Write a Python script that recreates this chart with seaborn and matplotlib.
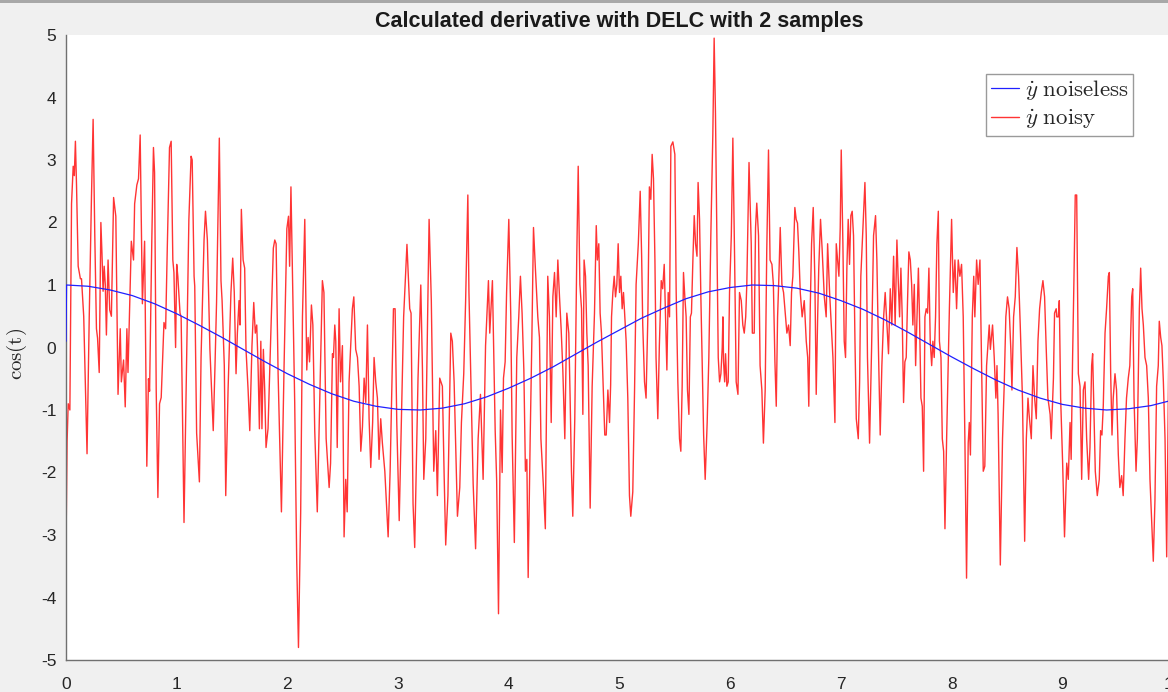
import matplotlib
matplotlib.use("Agg")
import matplotlib.pyplot as plt
from matplotlib.patches import Rectangle
import pandas as pd
import seaborn as sns

# ---------------- data ----------------
title = "Calculated derivative with DELC with 2 samples"
ylabel = r"$\mathrm{cos(t)}$"
label_clean = r"$\dot{y}\ \mathrm{noiseless}$"
label_noisy = r"$\dot{y}\ \mathrm{noisy}$"
x_ticks = [0, 1, 2, 3, 4, 5, 6, 7, 8, 9, 10]
y_ticks = [-5, -4, -3, -2, -1, 0, 1, 2, 3, 4, 5]

# noiseless derivative (blue)
t_clean = [0.0, 0.005, 0.2, 0.4, 0.6, 0.8, 1.0, 1.2, 1.4, 1.6, 1.8, 2.0, 2.2, 2.4, 2.6,
           2.8, 3.0, 3.2, 3.4, 3.6, 3.8, 4.0, 4.2, 4.4, 4.6, 4.8, 5.0, 5.2, 5.4,
           5.6, 5.8, 6.0, 6.2, 6.4, 6.6, 6.8, 7.0, 7.2, 7.4, 7.6, 7.8, 8.0, 8.2,
           8.4, 8.6, 8.8, 9.0, 9.2, 9.4, 9.6, 9.8, 10.0]
v_clean = [0.1, 1.0, 0.98, 0.92, 0.83, 0.70, 0.54, 0.36, 0.17, -0.03, -0.23, -0.42,
           -0.59, -0.74, -0.86, -0.94, -0.99, -1.0, -0.97, -0.90, -0.79, -0.65,
           -0.49, -0.31, -0.11, 0.09, 0.28, 0.47, 0.63, 0.78, 0.89, 0.96, 1.0,
           0.99, 0.95, 0.87, 0.75, 0.61, 0.44, 0.25, 0.05, -0.15, -0.34, -0.52,
           -0.68, -0.81, -0.91, -0.97, -1.0, -0.98, -0.93, -0.84]

# noisy derivative (red), (t, value) pairs per unit of t
seg0 = [(0.0, -3.2), (0.01, -1.5), (0.02, -0.9), (0.035, -1.0), (0.05, 2.3), (0.065, 2.9),
        (0.075, 2.75), (0.085, 3.3), (0.095, 2.6), (0.11, 1.3), (0.13, 1.1), (0.14, 1.1),
        (0.16, 0.5), (0.19, -1.7), (0.21, 0.5), (0.23, 2.4), (0.245, 3.65), (0.26, 1.8),
        (0.275, 0.3), (0.285, 0.15), (0.30, -0.4), (0.315, 2.0), (0.325, 1.5), (0.335, 0.9),
        (0.345, 1.3), (0.355, 1.0), (0.365, 0.2), (0.38, 1.4), (0.395, 0.6), (0.41, 0.5),
        (0.43, 2.4), (0.45, 2.1), (0.47, -0.75), (0.49, 0.3), (0.50, -0.55), (0.52, -0.2),
        (0.535, -0.95), (0.55, 0.3), (0.56, -0.4), (0.59, 1.7), (0.61, 1.4), (0.62, 2.3),
        (0.64, 2.6), (0.655, 2.7), (0.67, 3.4), (0.69, 0.7), (0.71, 1.7), (0.73, -1.9),
        (0.745, -0.5), (0.755, -0.7), (0.775, 1.7), (0.79, 3.2), (0.80, 2.8), (0.815, -0.7),
        (0.83, -2.4), (0.845, -0.9), (0.86, -0.8), (0.885, 0.4), (0.90, 0.3), (0.915, 1.6),
        (0.935, 3.2), (0.95, 3.3), (0.965, 1.4), (0.975, 1.2), (0.99, 0.0)]
seg1 = [(1.0, 1.33), (1.01, 1.14), (1.03, 0.55), (1.04, 0.49), (1.066, -2.8), (1.09, -0.16),
        (1.11, 2.05), (1.13, 3.06), (1.14, 3.0), (1.157, 1.14), (1.163, 0.98), (1.18, -1.37),
        (1.205, -2.15), (1.22, -0.16), (1.247, 1.72), (1.26, 2.18), (1.277, 1.72), (1.30, -0.03),
        (1.33, -1.33), (1.346, -0.29), (1.36, 0.72), (1.385, 3.35), (1.40, 1.07), (1.41, 0.75),
        (1.43, -0.29), (1.443, -2.37), (1.464, -0.68), (1.49, 0.88), (1.506, 1.43), (1.52, 0.88),
        (1.527, 0.29), (1.536, -0.42), (1.548, 0.23), (1.563, 0.75), (1.572, 0.36), (1.584, 2.21),
        (1.60, 1.4), (1.614, 1.27), (1.626, -0.03), (1.645, -0.68), (1.66, -1.33), (1.68, 0.03),
        (1.696, 0.72), (1.71, 0.23), (1.723, 0.36), (1.735, -0.29), (1.747, -1.3), (1.76, 0.1),
        (1.77, -1.3), (1.783, -0.03), (1.795, -0.68), (1.807, -1.6), (1.825, -1.3), (1.85, 0.23),
        (1.873, 1.59), (1.886, 1.72), (1.898, 1.66), (1.916, -0.42), (1.946, -2.63), (1.97, -0.29)]
seg2 = [(1.995, 1.9), (2.01, 2.1), (2.02, 1.3), (2.032, 2.57), (2.066, -0.88), (2.084, -3.4),
        (2.1, -4.8), (2.12, -2.63), (2.136, 0.49), (2.157, 2.05), (2.175, -0.36), (2.187, 0.16),
        (2.2, -0.23), (2.217, 0.68), (2.23, 0.36), (2.247, -1.33), (2.27, -2.63), (2.295, -0.62),
        (2.316, 1.07), (2.33, 0.88), (2.35, -1.46), (2.377, -2.24), (2.39, -1.85), (2.407, -0.1),
        (2.416, -0.16), (2.428, 0.36), (2.437, 0.1), (2.45, -1.6), (2.467, 0.62), (2.48, -0.55),
        (2.497, 0.03), (2.512, -3.03), (2.527, -2.11), (2.54, -2.63), (2.557, -0.55), (2.572, 0.03),
        (2.587, 0.62), (2.6, 0.81), (2.617, -0.03), (2.633, -0.16), (2.648, -0.62), (2.663, -1.66),
        (2.678, -1.27), (2.693, -0.49), (2.708, -0.88), (2.723, 0.36), (2.738, -1.14), (2.753, -1.92),
        (2.77, -1.2), (2.783, -0.16), (2.798, -0.55), (2.813, -0.81), (2.828, -1.79), (2.843, -1.14),
        (2.858, -1.53), (2.88, -1.98), (2.91, -3.03), (2.928, -1.98), (2.94, -0.94), (2.958, 0.62),
        (2.973, 0.62), (2.988, -1.2)]
seg3 = [(3.01, -2.77), (3.05, 0.49), (3.08, 1.65), (3.105, 0.62), (3.117, 0.55), (3.135, -2.5),
        (3.15, -3.2), (3.18, -0.49), (3.205, 1.0), (3.22, -0.36), (3.232, -2.11), (3.25, -1.46),
        (3.28, 2.05), (3.30, 0.75), (3.322, -1.98), (3.34, -1.33), (3.355, -2.37), (3.376, -0.49),
        (3.4, -0.62), (3.416, -2.05), (3.43, -3.16), (3.45, -2.37), (3.476, 0.23), (3.49, 0.1),
        (3.506, -0.55), (3.536, -2.7), (3.557, -2.24), (3.572, -1.2), (3.593, -0.42), (3.61, 0.75),
        (3.63, 2.44), (3.64, 0.88), (3.678, -2.18), (3.70, -3.22), (3.723, -1.46), (3.744, -0.75),
        (3.768, -2.11), (3.79, 0.03), (3.816, 1.07), (3.828, 0.23), (3.852, 1.07), (3.877, -1.33),
        (3.89, -2.11), (3.907, -4.26), (3.925, -1.0)]
seg4 = [(3.94, -2.0), (3.952, -0.49), (3.967, -0.23), (3.98, 0.88), (4.0, 2.05), (4.018, 0.49),
        (4.03, -1.4), (4.05, -3.12), (4.072, -0.16), (4.09, 0.49), (4.105, 1.14), (4.12, 0.55),
        (4.136, -0.36), (4.15, -1.98), (4.163, -1.79), (4.175, -3.68), (4.193, -1.46), (4.208, 0.1),
        (4.223, 1.92), (4.24, 1.27), (4.262, 0.49), (4.277, 0.16), (4.29, -1.46), (4.313, -2.24),
        (4.33, -2.9), (4.352, 1.14), (4.367, 0.49), (4.383, -1.2), (4.398, 0.81), (4.413, 1.2),
        (4.428, 0.49), (4.443, 1.4), (4.458, 0.81), (4.473, 0.29), (4.488, -0.36), (4.506, -1.46),
        (4.524, 0.55), (4.542, 0.23), (4.554, -0.81), (4.566, -1.98), (4.578, -2.7), (4.596, -1.14),
        (4.614, 1.46), (4.627, 2.9), (4.642, 1.01), (4.657, 0.62), (4.669, -1.07), (4.68, 1.4),
        (4.693, 1.14), (4.705, 0.23), (4.717, -0.29), (4.735, -2.57), (4.753, -0.62), (4.774, 0.55),
        (4.79, 1.95), (4.8, 1.4), (4.813, 1.66), (4.825, 0.55), (4.837, 0.23), (4.85, -0.49),
        (4.867, -1.4), (4.88, -1.4), (4.895, -0.68), (4.91, -1.2)]
seg5 = [(4.92, -0.6), (4.928, 0.49), (4.94, 0.88), (4.952, 1.14), (4.964, 0.81), (4.976, 1.01),
        (4.988, 1.66), (5.0, 0.88), (5.012, 1.14), (5.024, 0.62), (5.036, 0.88), (5.048, 0.49),
        (5.06, 0.1), (5.075, -0.81), (5.09, -2.37), (5.102, -2.7), (5.12, -2.31), (5.136, -0.68),
        (5.15, 1.01), (5.17, 1.66), (5.187, 2.5), (5.2, 1.46), (5.21, 0.36), (5.226, -0.55),
        (5.24, -0.81), (5.256, 0.49), (5.27, 2.57), (5.283, 2.37), (5.295, 3.09), (5.307, 2.7),
        (5.32, 1.4), (5.33, -0.16), (5.346, -1.14), (5.36, 0.03), (5.377, 1.07), (5.39, 0.94),
        (5.404, 1.33), (5.416, 0.49), (5.428, -0.36), (5.44, 0.88), (5.452, 0.49), (5.464, 3.22),
        (5.482, 3.29), (5.5, 3.09), (5.512, 0.88), (5.527, -0.55), (5.542, -1.46), (5.554, -1.66),
        (5.566, -0.62), (5.578, 1.2), (5.59, 0.81), (5.602, 0.49), (5.614, -0.68), (5.627, -1.07),
        (5.64, 0.49), (5.65, 0.55), (5.663, 1.4), (5.675, 2.11), (5.687, 1.66), (5.7, 1.46),
        (5.71, 2.64), (5.723, 2.05), (5.735, 0.81), (5.747, -0.23), (5.76, -1.4), (5.774, -2.11),
        (5.792, -1.2), (5.807, -0.16), (5.825, 1.79), (5.843, 3.4), (5.855, 4.95), (5.867, 3.74),
        (5.88, 1.66), (5.892, -0.16), (5.904, -0.55)]
seg6 = [(5.916, -0.42), (5.928, 0.0), (5.934, 0.49), (5.94, -0.23), (5.95, -0.55), (5.958, -0.1),
        (5.97, -0.62), (5.982, -0.55), (5.994, 0.88), (6.01, 1.79), (6.024, 3.35), (6.04, 1.4),
        (6.054, -0.55), (6.07, -0.75), (6.084, 0.88), (6.1, 0.75), (6.114, 0.36), (6.127, 0.23),
        (6.14, 0.49), (6.15, 1.01), (6.17, 2.96), (6.18, 2.31), (6.19, 1.66), (6.2, 0.23),
        (6.217, 0.23), (6.229, 1.92), (6.24, 2.31), (6.256, 1.79), (6.27, -0.29), (6.286, -0.68),
        (6.3, -1.53), (6.316, -0.68), (6.33, 1.53), (6.346, 3.16), (6.36, 1.4), (6.377, 1.33),
        (6.39, 1.01), (6.404, -0.23), (6.416, -0.94), (6.428, 0.49), (6.44, 1.14), (6.452, 1.92),
        (6.467, 1.01), (6.482, 0.88), (6.497, 0.55), (6.512, 0.23), (6.527, 0.36), (6.542, 0.03),
        (6.554, 0.88), (6.566, 1.14), (6.584, 2.24), (6.596, 2.05), (6.608, 1.99), (6.62, 1.53),
        (6.633, 0.88), (6.65, 0.49), (6.669, 0.75), (6.687, 0.1), (6.7, -0.16), (6.71, -0.94),
        (6.723, 0.62), (6.735, 1.66), (6.75, 2.24), (6.765, 1.07), (6.777, -0.75), (6.79, 0.49),
        (6.8, 1.27), (6.816, 2.05), (6.83, 1.59), (6.85, 0.81), (6.867, 0.49), (6.88, 1.66),
        (6.898, 0.88), (6.913, 0.36), (6.928, -0.16), (6.946, -1.2)]
seg7 = [(6.958, 1.66), (6.97, 1.4), (6.982, 1.14), (6.994, 1.92), (7.003, 3.16), (7.018, 1.66),
        (7.03, 0.1), (7.042, -0.16), (7.054, 1.27), (7.066, 2.05), (7.078, 1.33), (7.09, 2.11),
        (7.102, 2.18), (7.114, 1.79), (7.127, 0.1), (7.139, -1.14), (7.157, -1.46), (7.169, -0.55),
        (7.18, 1.14), (7.196, 1.79), (7.217, 2.64), (7.229, 1.79), (7.24, -0.16), (7.259, -1.53),
        (7.277, -0.03), (7.295, 1.79), (7.313, 2.11), (7.325, 1.4), (7.34, -0.1), (7.355, -1.4),
        (7.37, -0.29), (7.386, 0.49), (7.4, 0.88), (7.416, 0.36), (7.43, -0.1), (7.446, 0.94),
        (7.46, 0.36), (7.476, 1.46), (7.49, 0.36), (7.506, 1.72), (7.518, 1.07), (7.53, 0.49),
        (7.542, 1.27), (7.554, 0.49), (7.566, -0.88), (7.578, -0.23), (7.59, -0.16), (7.602, 0.75),
        (7.614, 1.53), (7.627, 1.4), (7.639, 1.01), (7.65, 0.36), (7.663, 1.01), (7.675, -0.29),
        (7.687, 0.49), (7.7, 1.27), (7.71, 0.49), (7.723, -0.81), (7.735, -0.94), (7.747, -1.98),
        (7.759, 0.49), (7.771, 0.62), (7.783, 0.55), (7.795, 1.27), (7.807, 0.1), (7.82, -0.29),
        (7.831, 0.1), (7.843, -0.16), (7.855, 0.49), (7.867, 1.66), (7.88, 2.18), (7.89, 0.1),
        (7.904, -0.16), (7.916, -1.46), (7.928, -1.66), (7.94, -2.9)]
seg8 = [(7.955, -1.46), (7.98, 0.62), (8.0, 2.05), (8.015, 0.88), (8.03, 1.4), (8.045, 0.62),
        (8.06, 1.4), (8.075, 1.14), (8.09, 1.33), (8.105, 0.49), (8.12, -1.46), (8.135, -3.69),
        (8.15, -1.53), (8.16, -1.2), (8.17, -1.72), (8.187, 0.49), (8.2, 1.14), (8.21, 0.49),
        (8.226, 1.4), (8.24, 1.01), (8.256, 1.4), (8.27, -0.16), (8.286, -1.98), (8.3, -1.9),
        (8.316, -0.29), (8.34, 0.36), (8.35, -0.03), (8.37, 0.36), (8.385, -0.16), (8.4, -0.81),
        (8.41, -0.29), (8.42, -1.07), (8.44, -3.48), (8.46, -1.46), (8.475, -0.62), (8.49, 0.49),
        (8.505, 0.81), (8.52, 0.62), (8.535, -0.03), (8.545, -0.68), (8.56, 0.49), (8.575, 0.81),
        (8.59, 1.6), (8.605, 1.14), (8.62, 0.36), (8.64, -0.81), (8.66, -3.1), (8.675, -1.46),
        (8.69, -0.81), (8.7, -1.07), (8.72, -1.46), (8.735, -0.29), (8.75, -0.81), (8.765, -1.14),
        (8.78, 0.1), (8.795, 0.62), (8.81, 0.88), (8.825, 1.07), (8.84, 0.81), (8.855, -0.03),
        (8.87, -0.81), (8.89, -1.07), (8.9, -1.46), (8.92, -0.49), (8.93, 0.55), (8.945, 0.62)]
seg9 = [(8.95, 0.49), (8.964, 0.49), (8.973, 0.75), (8.985, -0.81), (9.003, -1.85), (9.02, -3.03),
        (9.04, -1.85), (9.054, -2.11), (9.07, -1.2), (9.08, -1.79), (9.093, -0.16), (9.105, 1.07),
        (9.117, 2.44), (9.13, 2.44), (9.145, -0.42), (9.16, -0.62), (9.175, -2.11), (9.19, -0.68),
        (9.205, -0.55), (9.22, -1.46), (9.238, -2.11), (9.25, -1.6), (9.265, -0.29), (9.274, -0.1),
        (9.286, -1.07), (9.298, -1.98), (9.316, -2.37), (9.334, -2.11), (9.346, -1.33), (9.358, -1.4),
        (9.37, -0.94), (9.386, 0.23), (9.4, 0.62), (9.416, 1.14), (9.425, 1.2), (9.437, -0.42),
        (9.449, -1.4), (9.46, -0.81), (9.476, -0.42), (9.49, -0.68), (9.506, -1.72), (9.52, -2.24),
        (9.536, -2.05), (9.55, -2.37), (9.566, -1.46), (9.58, -0.81), (9.596, -0.49), (9.61, -0.29),
        (9.627, 0.81), (9.636, 0.94), (9.648, -0.81), (9.666, -1.98), (9.678, -1.46), (9.696, 0.62),
        (9.708, 1.27), (9.72, 0.62), (9.732, 0.36), (9.747, -0.16), (9.762, -0.29), (9.777, -0.81),
        (9.792, -2.11), (9.807, -2.77), (9.822, -3.42), (9.837, -2.44), (9.852, -0.62), (9.867, -0.29),
        (9.876, 0.42), (9.889, 0.16), (9.9, 0.03), (9.913, -0.55), (9.928, -1.46), (9.943, -3.35),
        (9.955, -1.2), (9.965, 0.4), (9.98, -0.2), (10.0, -0.9)]

# ---------------- build tables ----------------
noisy = [p for seg in (seg0, seg1, seg2, seg3, seg4, seg5, seg6, seg7, seg8, seg9) for p in seg]
df_noisy = pd.DataFrame(noisy, columns=["t", "v"])
df_clean = pd.DataFrame({"t": t_clean, "v": v_clean})

# ---------------- style ----------------
sns.set_theme(style="white")
plt.rcParams["font.family"] = ["Liberation Sans", "DejaVu Sans"]
plt.rcParams["mathtext.fontset"] = "cm"

W, H = 1168, 692
fig = plt.figure(figsize=(W / 100, H / 100), dpi=100, facecolor="#f0f0f0")
ax_left, ax_right, ax_top, ax_bottom = 66, 1173, 35, 660
ax = fig.add_axes([ax_left / W, (H - ax_bottom) / H,
                   (ax_right - ax_left) / W, (ax_bottom - ax_top) / H])
ax.set_facecolor("white")

sns.lineplot(data=df_noisy, x="t", y="v", ax=ax, color="#ff1010", linewidth=1.0, alpha=0.85,
             sort=False, estimator=None, zorder=2, label=label_noisy)
sns.lineplot(data=df_clean, x="t", y="v", ax=ax, color="#2020ff", linewidth=0.9,
             sort=False, estimator=None, zorder=3, label=label_clean)

ax.set_xlim(0, 10)
ax.set_ylim(-5, 5)
ax.set_xticks(x_ticks)
ax.set_yticks(y_ticks)
ax.set_xticklabels([str(v) for v in x_ticks])
ax.set_yticklabels([str(v) for v in y_ticks])
ax.set_xlabel("")
ax.set_ylabel(ylabel, fontsize=15, color="#262626")
ax.yaxis.set_label_coords(-0.033, 0.49)

for side in ("top", "right"):
    ax.spines[side].set_visible(False)
for side in ("left", "bottom"):
    ax.spines[side].set_color("#707070")
    ax.spines[side].set_linewidth(1.0)

ax.tick_params(axis="both", direction="in", length=6, width=1.0, color="#707070",
               labelsize=12.5, labelcolor="#262626")
ax.tick_params(axis="x", pad=12)
ax.tick_params(axis="y", pad=7)

ax.set_title(title, fontsize=15.5, fontweight="bold", color="#1a1a1a", pad=6)

handles, labels = ax.get_legend_handles_labels()
order = [labels.index(label_clean), labels.index(label_noisy)]
leg = ax.legend([handles[i] for i in order], [labels[i] for i in order],
                loc="upper right", bbox_to_anchor=(0.964, 0.938), borderaxespad=0,
                fontsize=16.5, frameon=True, fancybox=False, framealpha=1,
                edgecolor="#9a9a9a", handlelength=1.25, handletextpad=0.25,
                borderpad=0.2, labelspacing=0.2)
leg.get_frame().set_linewidth(1.0)

# thin grey strip at the very top of the window capture
fig.add_artist(Rectangle((0, 1 - 3 / H), 1, 3 / H, transform=fig.transFigure,
                         facecolor="#a8a8a8", edgecolor="none"))

fig.savefig("out.png", dpi=100, facecolor=fig.get_facecolor())
